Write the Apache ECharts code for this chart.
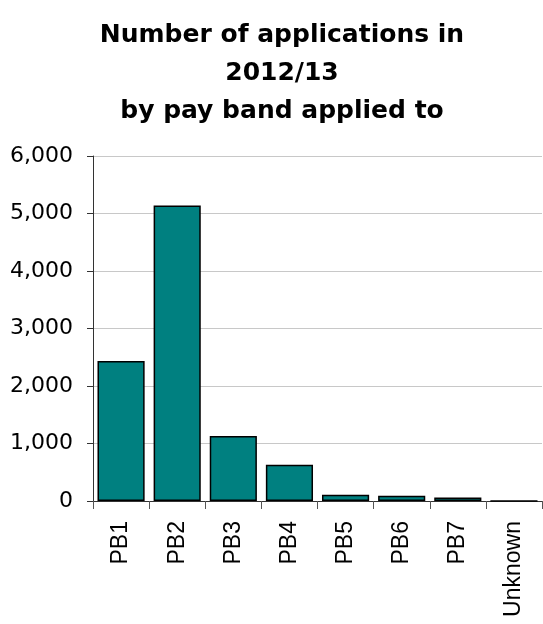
<!DOCTYPE html>
<html><head><meta charset="utf-8">
<script src="https://cdn.jsdelivr.net/npm/echarts@6/dist/echarts.min.js"></script>
<style>html,body{margin:0;padding:0;background:#fff}#c{width:543px;height:624px}</style>
</head><body><div id="c"></div>
<script>
const categories = ['PB1','PB2','PB3','PB4','PB5','PB6','PB7','Unknown'];
const applications = [2435, 5140, 1130, 630, 110, 90, 60, 0];
const yTicks = {min: 0, max: 6000, interval: 1000};
const titleText = 'Number of applications in\n2012/13\nby pay band applied to';

const chart = echarts.init(document.getElementById('c'), null, {renderer: 'canvas'});
chart.setOption({
  animation: false,
  backgroundColor: '#fff',
  title: {
    text: titleText,
    left: 277, top: 11, textAlign: 'center',
    textStyle: {fontFamily: 'DejaVu Sans', fontWeight: 'bold', fontSize: 25, lineHeight: 38, color: '#000'}
  },
  grid: {left: 93, right: 1, top: 156, bottom: 123},
  xAxis: {
    type: 'category', data: categories,
    axisLine: {lineStyle: {color: '#333', width: 1}},
    axisTick: {show: true, length: 8, lineStyle: {color: '#555'}},
    axisLabel: {rotate: 90, margin: 20, fontFamily: 'Liberation Sans', fontSize: 23, color: '#000', interval: 0,
      padding: [0, 0, 10, 0]}
  },
  yAxis: {
    type: 'value', min: yTicks.min, max: yTicks.max, interval: yTicks.interval,
    axisLine: {show: true, lineStyle: {color: '#333', width: 1}},
    axisTick: {show: true, length: 6, lineStyle: {color: '#333'}},
    splitLine: {lineStyle: {color: '#c8c8c8', width: 1}},
    axisLabel: {margin: 20, fontFamily: 'DejaVu Sans', fontSize: 22, color: '#000',
      formatter: v => v.toLocaleString('en-US')}
  },
  series: [{
    type: 'bar', data: applications, barCategoryGap: '16%',
    itemStyle: {color: '#008080', borderColor: '#000', borderWidth: 1.5}
  }]
});
</script></body></html>
